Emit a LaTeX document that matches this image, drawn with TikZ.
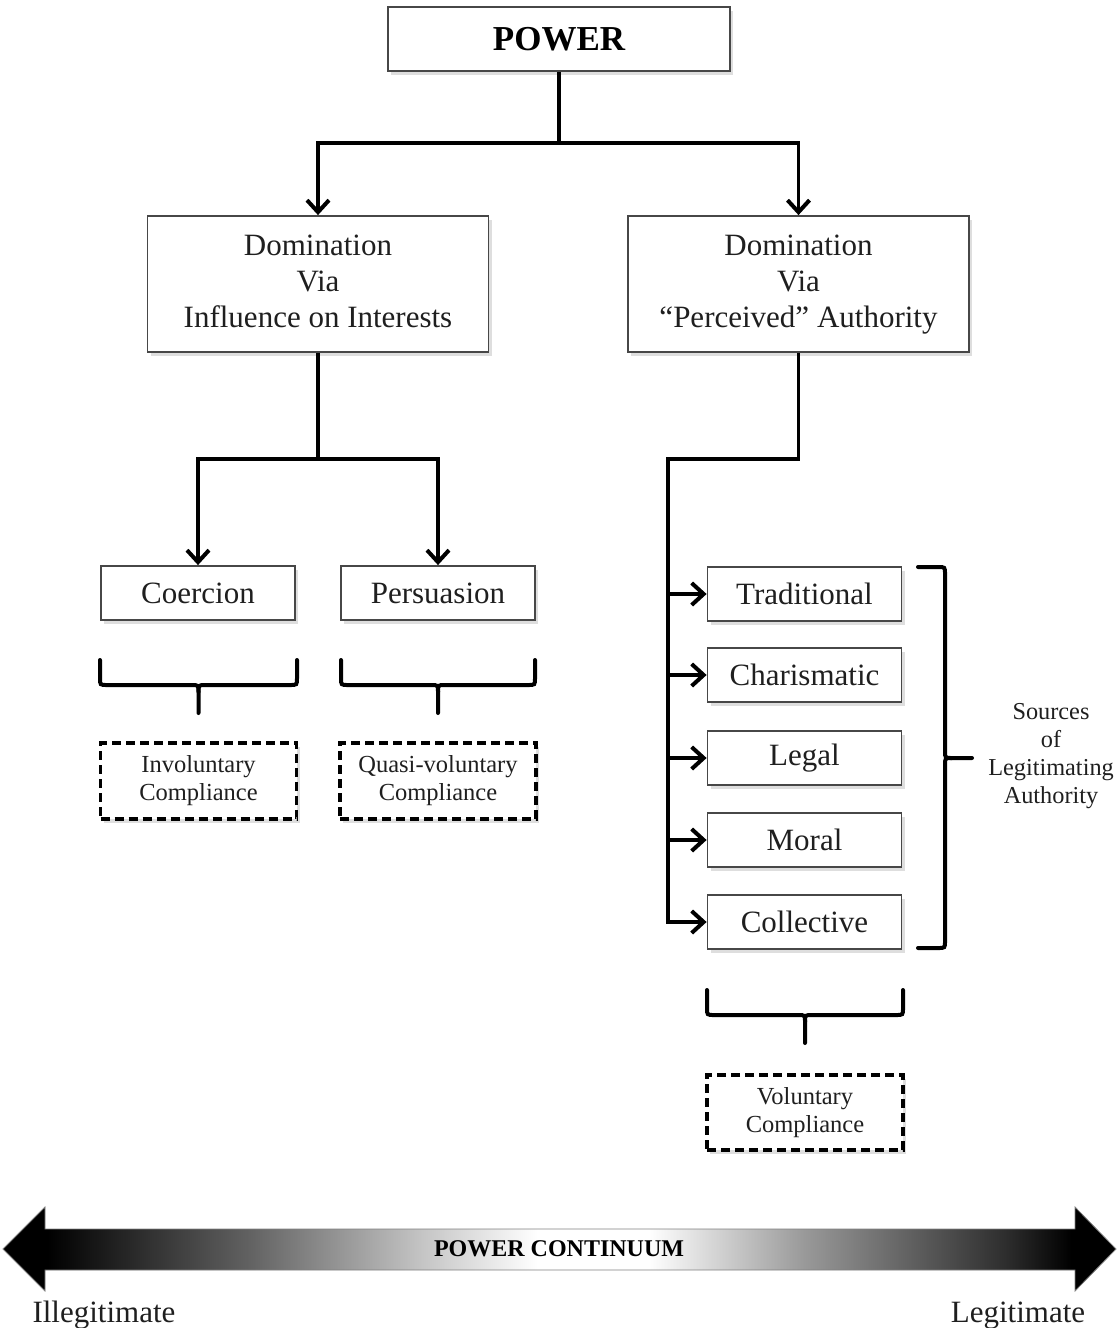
\documentclass[tikz,border=0pt]{standalone}
\usepackage{fontspec}
\setmainfont{Liberation Serif}
\usetikzlibrary{arrows.meta,shadows}
\pgfdeclarehorizontalshading{contshade}{100bp}{color(0bp)=(black); color(27bp)=(black); color(36bp)=(black!62); color(44bp)=(black!22); color(49bp)=(white); color(54bp)=(white); color(61bp)=(black!40); color(70bp)=(black!82); color(73bp)=(black); color(100bp)=(black)}
\begin{document}
\begin{tikzpicture}[x=1pt,y=-1pt,
  box/.style={draw=black!72, line width=1.8pt, fill=white, inner sep=0pt, align=center,
    text=black!88, drop shadow={shadow xshift=3pt, shadow yshift=-4pt, fill=black, opacity=0.13}},
  bigbox/.style={box, minimum width=341pt, minimum height=136pt, font=\fontsize{31}{36}\selectfont},
  smallbox/.style={box, minimum width=194pt, minimum height=54pt, font=\fontsize{31}{34}\selectfont},
  dashbox/.style={draw=black, line width=3.4pt, dash pattern=on 9pt off 5pt, fill=white, inner sep=0pt,
    align=center, text=black!88, minimum width=196pt, minimum height=76pt,
    font=\fontsize{24.5}{28}\selectfont,
    drop shadow={shadow xshift=3pt, shadow yshift=-4pt, fill=black, opacity=0.13}},
  conn/.style={line width=3.6pt, draw=black},
  arr/.style={conn, -{Straight Barb[length=12pt,width=22pt,line width=4pt]}},
  brc/.style={line width=4pt, draw=black, line cap=round},
  lbl/.style={inner sep=0pt, align=center, text=black!88}]
\useasboundingbox (0,0) rectangle (1118,1328);

% main boxes
\node[box, minimum width=342pt, minimum height=64pt, font=\fontsize{35}{40}\selectfont\bfseries, text=black] (P) at (559,39) {POWER};
\node[bigbox] (DL) at (318,284) {\strut Domination\\Via\\Influence on Interests\strut};
\node[bigbox] (DR) at (798.5,284) {\strut Domination\\Via\\“Perceived” Authority\strut};

\node[smallbox] (Co) at (198,593) {Coercion};
\node[smallbox] (Pe) at (438,593) {Persuasion};

\node[smallbox] (Tr) at (804.5,594) {Traditional};
\node[smallbox] (Ch) at (804.5,675) {Charismatic};
\node[smallbox] (Le) at (804.5,758) {Legal};
\node[smallbox] (Mo) at (804.5,840) {Moral};
\node[smallbox] (Cl) at (804.5,922) {Collective};

\node[dashbox] (IC) at (198.5,781) {Involuntary\\Compliance};
\node[dashbox] (QC) at (438,781) {Quasi-voluntary\\Compliance};
\node[dashbox, minimum height=75pt] (VC) at (805,1112.5) {Voluntary\\Compliance};

\node[lbl, font=\fontsize{24.3}{28}\selectfont] (SL) at (1051,756) {Sources\\of\\Legitimating\\Authority};

% connectors
\coordinate (j1) at (559,143);
\draw[arr] (P.south) -- (j1) -| (DL.north);
\draw[arr] (j1) -| (DR.north);

\coordinate (j2) at (318,459);
\draw[arr] (DL.south) -- (j2) -| (Co.north);
\draw[arr] (j2) -| (Pe.north);

\coordinate (bus) at (668,459);
\draw[conn] (DR.south) |- (bus) -- (bus |- Cl.west);
\draw[arr] (bus |- Tr.west) -- (Tr.west);
\draw[arr] (bus |- Ch.west) -- (Ch.west);
\draw[arr] (bus |- Le.west) -- (Le.west);
\draw[arr] (bus |- Mo.west) -- (Mo.west);
\draw[arr] (bus |- Cl.west) ++(-1.8pt,0) -- (Cl.west);

% braces
\draw[brc] (100,660) -- (100,678) .. controls (100,685) .. (107,685) -- (191,685) .. controls (198.5,685) .. (198.5,692) -- (198.5,713);
\draw[brc] (297,660) -- (297,678) .. controls (297,685) .. (290,685) -- (206,685) .. controls (198.5,685) .. (198.5,692);

\draw[brc] (341,660) -- (341,678) .. controls (341,685) .. (348,685) -- (431,685) .. controls (438,685) .. (438,692) -- (438,713);
\draw[brc] (535,660) -- (535,678) .. controls (535,685) .. (528,685) -- (445,685) .. controls (438,685) .. (438,692);

\draw[brc] (707,990) -- (707,1008) .. controls (707,1015) .. (714,1015) -- (798,1015) .. controls (805,1015) .. (805,1022) -- (805,1043);
\draw[brc] (903,990) -- (903,1008) .. controls (903,1015) .. (896,1015) -- (812,1015) .. controls (805,1015) .. (805,1022);

\draw[brc] (918,567) -- (938,567) .. controls (945,567) .. (945,574) -- (945,751) .. controls (945,758) .. (952,758) -- (972,758);
\draw[brc] (918,948) -- (938,948) .. controls (945,948) .. (945,941) -- (945,765) .. controls (945,758) .. (952,758);

% power continuum
\shade[shading=contshade, draw=black!50, line width=0.8pt]
  (3,1249) -- (45,1207) -- (45,1229) -- (1075,1229) -- (1075,1207) -- (1116,1249)
  -- (1075,1291) -- (1075,1270) -- (45,1270) -- (45,1291) -- cycle;
\node[lbl, font=\fontsize{24}{28}\selectfont\bfseries, text=black] (PC) at (559,1249) {POWER CONTINUUM};
\node[lbl, font=\fontsize{31}{34}\selectfont, anchor=base] (IL) at (104,1322) {Illegitimate};
\node[lbl, font=\fontsize{31}{34}\selectfont, anchor=base] (LG) at (1018,1322) {Legitimate};
\end{tikzpicture}
\end{document}
